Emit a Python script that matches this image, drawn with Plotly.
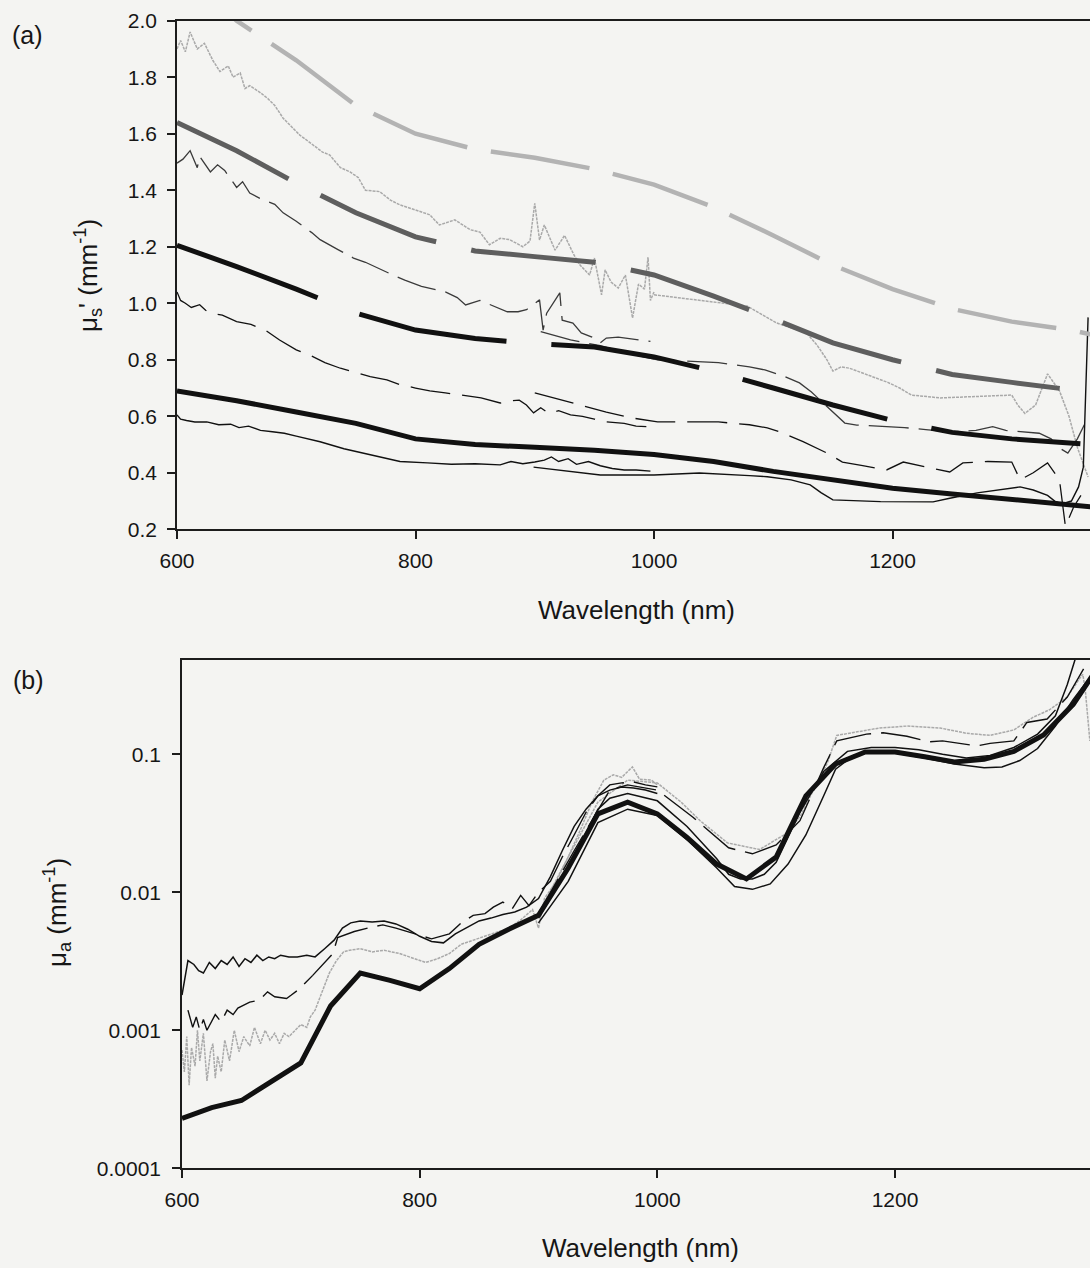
import plotly.graph_objects as go

# ---------------- panel (a): reduced scattering coefficient ----------------
# model fits (thick lines)
wl_fit_a = [600, 650, 700, 750, 800, 850, 900, 950, 1000, 1050, 1100, 1150, 1200, 1250, 1300, 1350, 1366]
mus_fit_1 = [2.20, 2.00, 1.86, 1.70, 1.60, 1.545, 1.515, 1.475, 1.42, 1.34, 1.24, 1.135, 1.05, 0.98, 0.935, 0.905, 0.89]
mus_fit_2 = [1.64, 1.54, 1.425, 1.32, 1.235, 1.185, 1.165, 1.145, 1.10, 1.025, 0.945, 0.86, 0.80, 0.748, 0.72, 0.693, 0.685]
mus_fit_3 = [1.205, 1.13, 1.05, 0.965, 0.905, 0.875, 0.857, 0.845, 0.81, 0.76, 0.70, 0.64, 0.585, 0.543, 0.52, 0.505, 0.50]
mus_fit_4 = [0.69, 0.655, 0.615, 0.575, 0.52, 0.50, 0.49, 0.48, 0.465, 0.44, 0.405, 0.375, 0.345, 0.325, 0.305, 0.285, 0.28]

# measured spectra, visible spectrometer
wl_m1_vis = [600, 603, 607, 611, 617, 623, 630, 636, 643, 647, 653, 657, 661, 670, 676, 682, 689, 697, 703, 712,
             722, 728, 737, 745, 752, 758, 770, 779, 787, 800, 812, 820, 833, 846, 854, 862, 871, 879, 890, 896,
             900, 904, 908, 917, 925, 933, 938, 946, 950, 956, 959, 964, 970, 976, 982, 987, 992, 995, 997, 1000]
mus_m1_vis = [1.90, 1.93, 1.89, 1.96, 1.90, 1.92, 1.86, 1.82, 1.84, 1.80, 1.815, 1.76, 1.77, 1.745, 1.725, 1.70, 1.655, 1.62, 1.595, 1.567,
              1.535, 1.525, 1.48, 1.465, 1.445, 1.40, 1.395, 1.365, 1.348, 1.33, 1.313, 1.277, 1.295, 1.26, 1.252, 1.207, 1.23, 1.225, 1.20, 1.22,
              1.354, 1.224, 1.277, 1.188, 1.24, 1.17, 1.135, 1.10, 1.16, 1.03, 1.118, 1.075, 1.054, 1.10, 0.948, 1.068, 1.05, 1.163, 1.01, 1.04]
wl_m2_vis = [600, 605, 611, 617, 619, 628, 634, 640, 645, 650, 655, 661, 670, 682, 689, 700, 713, 720, 735, 748,
             758, 770, 781, 791, 805, 818, 825, 835, 842, 854, 865, 877, 886, 893, 904, 907, 910, 921, 923, 932,
             939, 948, 955, 960, 970, 988, 997]
mus_m2_vis = [1.496, 1.51, 1.54, 1.48, 1.52, 1.465, 1.49, 1.47, 1.44, 1.41, 1.43, 1.39, 1.37, 1.35, 1.32, 1.29, 1.25, 1.225, 1.19, 1.16,
              1.145, 1.12, 1.10, 1.082, 1.06, 1.047, 1.04, 1.02, 0.994, 1.01, 0.99, 0.97, 0.97, 0.977, 1.012, 0.905, 0.965, 1.037, 0.94, 0.93,
              0.895, 0.88, 0.86, 0.877, 0.88, 0.87, 0.865]
wl_m3_vis = [600, 603, 607, 612, 619, 624, 628, 638, 650, 662, 674, 686, 700, 712, 724, 737, 750, 762, 776, 787,
             800, 812, 825, 840, 855, 871, 880, 887, 893, 899, 905, 912, 920, 930, 940, 950, 960, 975, 985, 997]
mus_m3_vis = [1.04, 1.01, 1.0, 0.985, 0.995, 0.975, 0.965, 0.958, 0.935, 0.925, 0.905, 0.87, 0.835, 0.815, 0.79, 0.77, 0.755, 0.74, 0.729, 0.712,
              0.70, 0.69, 0.683, 0.675, 0.665, 0.647, 0.655, 0.657, 0.64, 0.612, 0.63, 0.61, 0.62, 0.605, 0.60, 0.59, 0.58, 0.575, 0.565, 0.563]
wl_m4_vis = [600, 603, 608, 615, 625, 635, 645, 652, 660, 670, 680, 690, 700, 720, 740, 760, 787, 810, 830, 850,
             871, 880, 890, 900, 908, 914, 920, 928, 935, 945, 955, 965, 975, 985, 997]
mus_m4_vis = [0.605, 0.59, 0.585, 0.58, 0.58, 0.57, 0.572, 0.56, 0.565, 0.55, 0.545, 0.54, 0.53, 0.51, 0.485, 0.465, 0.44, 0.435, 0.43, 0.432,
              0.428, 0.44, 0.432, 0.438, 0.445, 0.456, 0.44, 0.45, 0.43, 0.44, 0.425, 0.415, 0.41, 0.41, 0.406]

# measured spectra, near-infrared spectrometer
wl_m1_nir = [1000, 1040, 1078, 1103, 1120, 1128, 1137, 1145, 1150, 1157, 1164, 1180, 1196, 1206, 1216, 1240, 1270, 1300,
             1305, 1311, 1320, 1326, 1330, 1335, 1340, 1348, 1355, 1364]
mus_m1_nir = [1.03, 1.01, 0.99, 0.93, 0.905, 0.895, 0.85, 0.80, 0.76, 0.775, 0.77, 0.745, 0.72, 0.70, 0.675, 0.665, 0.67, 0.675,
              0.64, 0.61, 0.64, 0.71, 0.75, 0.72, 0.69, 0.60, 0.49, 0.385]
wl_m2_nir = [905, 930, 955, 980, 1003, 1044, 1054, 1080, 1093, 1110, 1122, 1132, 1146, 1160, 1170, 1190, 1210, 1230, 1251,
             1270, 1284, 1295, 1310, 1323, 1333, 1339, 1347, 1355, 1362]
mus_m2_nir = [0.90, 0.87, 0.85, 0.82, 0.80, 0.793, 0.79, 0.775, 0.764, 0.74, 0.718, 0.686, 0.63, 0.576, 0.569, 0.565, 0.56, 0.552, 0.545,
              0.55, 0.563, 0.55, 0.545, 0.54, 0.52, 0.49, 0.47, 0.52, 0.58]
wl_m3_nir = [900, 920, 938, 960, 980, 1003, 1043, 1054, 1080, 1095, 1106, 1125, 1145, 1158, 1175, 1195, 1209, 1230, 1248,
             1259, 1280, 1300, 1307, 1318, 1330, 1340, 1345, 1352, 1358]
mus_m3_nir = [0.683, 0.66, 0.64, 0.615, 0.595, 0.58, 0.58, 0.58, 0.57, 0.559, 0.544, 0.51, 0.47, 0.438, 0.425, 0.41, 0.438, 0.42, 0.403,
              0.435, 0.44, 0.438, 0.375, 0.40, 0.435, 0.375, 0.21, 0.28, 0.32]
wl_m4_nir = [899, 930, 955, 1000, 1038, 1080, 1095, 1115, 1131, 1140, 1150, 1190, 1234, 1248, 1271, 1307, 1318, 1330,
             1336, 1342, 1350, 1356, 1360, 1364]
mus_m4_nir = [0.42, 0.405, 0.392, 0.392, 0.399, 0.39, 0.386, 0.375, 0.357, 0.33, 0.304, 0.298, 0.297, 0.31, 0.329, 0.35, 0.339, 0.32,
              0.30, 0.29, 0.30, 0.35, 0.42, 0.95]

# ---------------- panel (b): absorption coefficient ----------------
wl_ref_b = [600, 625, 650, 675, 700, 725, 750, 775, 800, 825, 850, 875, 900, 925, 950, 975, 1000, 1025, 1050, 1075,
            1100, 1125, 1150, 1175, 1200, 1225, 1250, 1275, 1300, 1325, 1350, 1366]
mua_ref_b = [2.3e-4, 2.75e-4, 3.1e-4, 4.2e-4, 5.8e-4, 1.5e-3, 2.6e-3, 2.3e-3, 2.0e-3, 2.8e-3, 4.2e-3, 5.4e-3, 6.8e-3, 0.015, 0.037, 0.045,
             0.037, 0.025, 0.016, 0.0125, 0.018, 0.05, 0.085, 0.104, 0.104, 0.096, 0.088, 0.092, 0.105, 0.138, 0.23, 0.37]

wl_s1_vis = [600, 602, 605, 610, 614, 618, 623, 628, 633, 638, 643, 648, 653, 658, 663, 668, 673, 678, 683, 690,
             697, 705, 712, 720, 728, 735, 742, 750, 760, 770, 780, 790, 800, 810, 820, 830, 840, 850, 860, 870,
             880, 890, 900, 910, 920, 930, 940, 950, 960, 970, 980, 990, 1000]
mua_s1_vis = [1.8e-3, 2.3e-3, 3.2e-3, 3.0e-3, 2.7e-3, 2.6e-3, 3.1e-3, 2.8e-3, 3.2e-3, 3.0e-3, 3.4e-3, 2.9e-3, 3.3e-3, 3.1e-3, 3.5e-3,
              3.2e-3, 3.4e-3, 3.3e-3, 3.5e-3, 3.4e-3, 3.4e-3, 3.5e-3, 3.4e-3, 3.9e-3, 4.5e-3, 5.5e-3, 6.0e-3, 6.2e-3, 6.1e-3, 6.2e-3,
              5.9e-3, 5.4e-3, 4.8e-3, 4.4e-3, 4.3e-3, 5.0e-3, 5.6e-3, 6.2e-3, 6.5e-3, 6.9e-3, 7.2e-3, 7.8e-3, 9.0e-3, 0.013, 0.020,
              0.030, 0.040, 0.050, 0.055, 0.058, 0.057, 0.055, 0.052]
wl_s2_vis = [605, 607, 609, 612, 615, 618, 621, 628, 633, 638, 643, 647, 657, 665, 672, 678, 688, 692, 699, 710,
             720, 727, 731, 745, 760, 769, 780, 795, 810, 825, 835, 845, 855, 862, 870, 878, 885, 892, 900, 910,
             920, 930, 940, 950, 960, 970, 980, 990, 1000]
mua_s2_vis = [1.4e-3, 1.2e-3, 1.05e-3, 1.25e-3, 1.0e-3, 1.2e-3, 1.0e-3, 1.3e-3, 1.15e-3, 1.4e-3, 1.3e-3, 1.45e-3, 1.6e-3, 1.65e-3,
              1.9e-3, 1.75e-3, 1.7e-3, 1.8e-3, 2.0e-3, 2.5e-3, 3.1e-3, 3.6e-3, 4.7e-3, 5.2e-3, 5.6e-3, 5.8e-3, 5.5e-3, 5.0e-3,
              4.6e-3, 5.0e-3, 6.0e-3, 6.8e-3, 7.0e-3, 7.8e-3, 8.5e-3, 7.6e-3, 9.5e-3, 8.0e-3, 0.010, 0.012, 0.018, 0.026, 0.038,
              0.050, 0.060, 0.062, 0.063, 0.060, 0.058]
wl_s3_vis = [600, 602, 604, 606, 608, 611, 613, 615, 618, 621, 624, 626, 628, 630, 633, 636, 640, 644, 648, 652,
             657, 661, 666, 670, 674, 678, 682, 686, 690, 695, 700, 705, 708, 712, 718, 724, 730, 736, 741, 750,
             760, 770, 783, 795, 805, 815, 825, 835, 845, 855, 865, 875, 885, 895, 900, 905, 915, 925, 935, 945,
             955, 963, 970, 979, 985, 995, 1000]
mua_s3_vis = [7.2e-4, 5.0e-4, 9.0e-4, 4.0e-4, 7.5e-4, 5.5e-4, 1.0e-3, 6.0e-4, 9.5e-4, 4.3e-4, 7.0e-4, 8.0e-4, 4.5e-4, 6.5e-4, 5.0e-4,
              8.5e-4, 6.0e-4, 1.0e-3, 7.0e-4, 9.0e-4, 7.7e-4, 1.05e-3, 8.0e-4, 1.0e-3, 8.5e-4, 9.5e-4, 8.0e-4, 9.5e-4, 9.0e-4,
              1.0e-3, 1.1e-3, 1.05e-3, 1.25e-3, 1.4e-3, 1.9e-3, 2.6e-3, 3.2e-3, 3.7e-3, 3.8e-3, 3.9e-3, 3.7e-3, 3.8e-3, 3.6e-3,
              3.3e-3, 3.1e-3, 3.3e-3, 3.6e-3, 4.2e-3, 4.5e-3, 4.8e-3, 5.2e-3, 5.5e-3, 6.3e-3, 7.5e-3, 5.5e-3, 9.0e-3, 0.012,
              0.018, 0.028, 0.045, 0.065, 0.071, 0.068, 0.081, 0.066, 0.065, 0.060]

wl_s1_nir = [900, 925, 950, 960, 975, 1000, 1025, 1050, 1060, 1070, 1080, 1090, 1100, 1120, 1140, 1160, 1180, 1200, 1220,
             1240, 1260, 1280, 1300, 1320, 1335, 1345, 1352]
mua_s1_nir = [6.5e-3, 0.015, 0.040, 0.048, 0.052, 0.046, 0.030, 0.0175, 0.0135, 0.0125, 0.0125, 0.0135, 0.0165, 0.038, 0.075, 0.105,
              0.112, 0.112, 0.108, 0.100, 0.094, 0.098, 0.112, 0.14, 0.19, 0.32, 0.5]
wl_s4_nir = [900, 925, 950, 975, 1000, 1025, 1050, 1065, 1080, 1095, 1110, 1125, 1140, 1150, 1165, 1180, 1200, 1225, 1250,
             1275, 1290, 1305, 1320, 1335, 1350, 1366]
mua_s4_nir = [6.0e-3, 0.012, 0.032, 0.040, 0.036, 0.024, 0.015, 0.011, 0.0105, 0.0115, 0.016, 0.026, 0.05, 0.078, 0.098, 0.104, 0.102,
              0.094, 0.085, 0.080, 0.081, 0.09, 0.11, 0.16, 0.25, 0.38]
wl_s2_nir = [900, 930, 960, 975, 1000, 1030, 1060, 1080, 1100, 1120, 1140, 1151, 1176, 1190, 1210, 1229, 1240, 1269, 1280,
             1300, 1311, 1328, 1345, 1361]
mua_s2_nir = [7.0e-3, 0.020, 0.055, 0.060, 0.055, 0.035, 0.021, 0.019, 0.022, 0.033, 0.080, 0.125, 0.14, 0.143, 0.135, 0.123, 0.125,
              0.115, 0.12, 0.125, 0.17, 0.18, 0.26, 0.45]
wl_s3_nir = [900, 925, 950, 975, 1000, 1020, 1036, 1059, 1086, 1109, 1120, 1143, 1151, 1187, 1210, 1238, 1260, 1280, 1300,
             1316, 1330, 1345, 1355, 1358, 1360, 1364]
mua_s3_nir = [7.0e-3, 0.018, 0.045, 0.065, 0.062, 0.045, 0.033, 0.0228, 0.0204, 0.0268, 0.0353, 0.086, 0.137, 0.155, 0.16, 0.155,
              0.142, 0.137, 0.15, 0.185, 0.21, 0.26, 0.35, 0.38, 0.30, 0.125]

# tick labels
x_ticks = [600, 800, 1000, 1200]
mus_ticks = [0.2, 0.4, 0.6, 0.8, 1.0, 1.2, 1.4, 1.6, 1.8, 2.0]
mua_ticks = [1e-4, 1e-3, 1e-2, 1e-1]
mua_ticktext = ["0.0001", "0.001", "0.01", "0.1"]

# ---------------- styles ----------------
BLACK = "#111111"
DARK = "#3a3a3a"
MID = "#5e5e5e"
LIGHT = "#a9a9a9"
BG = "#f4f4f2"
INK = "#161616"
FONT = "Liberation Sans, Arial, sans-serif"

fig = go.Figure()


def add(x, y, color, width, dash="solid", axis="a"):
    fig.add_trace(go.Scatter(
        x=x, y=y, mode="lines",
        line=dict(color=color, width=width, dash=dash),
        xaxis="x" if axis == "a" else "x2",
        yaxis="y" if axis == "a" else "y2",
        showlegend=False, hoverinfo="skip",
    ))


# panel (a) measured spectra
for wl, mu in [(wl_m1_vis, mus_m1_vis), (wl_m1_nir, mus_m1_nir)]:
    add(wl, mu, LIGHT, 1.5, "3px,1px")
for wl, mu in [(wl_m2_vis, mus_m2_vis), (wl_m2_nir, mus_m2_nir)]:
    add(wl, mu, DARK, 1.3, "40px,10px")
for wl, mu in [(wl_m3_vis, mus_m3_vis), (wl_m3_nir, mus_m3_nir)]:
    add(wl, mu, BLACK, 1.3, "40px,12px")
for wl, mu in [(wl_m4_vis, mus_m4_vis), (wl_m4_nir, mus_m4_nir)]:
    add(wl, mu, BLACK, 1.4)

# panel (a) fitted curves
add(wl_fit_a, mus_fit_1, "#b3b3b3", 4.5, "100px,24px")
add(wl_fit_a, mus_fit_2, MID, 5, "125px,36px")
add(wl_fit_a, mus_fit_3, BLACK, 5, "150px,45px")
add(wl_fit_a, mus_fit_4, BLACK, 5)

# panel (b)
add(wl_s3_vis, mua_s3_vis, LIGHT, 1.5, "3px,1px", "b")
add(wl_s3_nir, mua_s3_nir, LIGHT, 1.5, "3px,1px", "b")
add(wl_s2_vis, mua_s2_vis, BLACK, 1.4, "40px,10px", "b")
add(wl_s2_nir, mua_s2_nir, BLACK, 1.4, "40px,10px", "b")
add(wl_s1_vis, mua_s1_vis, BLACK, 1.5, "solid", "b")
add(wl_s1_nir, mua_s1_nir, BLACK, 1.5, "solid", "b")
add(wl_s4_nir, mua_s4_nir, BLACK, 1.5, "solid", "b")
add(wl_ref_b, mua_ref_b, BLACK, 5, "solid", "b")

W, H = 1090, 1268

axis_common = dict(
    showline=True, linecolor="#1c1c1c", linewidth=1.5,
    ticks="outside", ticklen=8, tickwidth=1.5, tickcolor="#1c1c1c",
    showgrid=False, zeroline=False, automargin=False,
    tickfont=dict(family=FONT, size=21, color=INK),
)

fig.update_layout(
    width=W, height=H, autosize=False,
    margin=dict(l=0, r=0, t=0, b=0, pad=0),
    paper_bgcolor=BG, plot_bgcolor=BG,
    xaxis=dict(domain=[177 / W, 1.0], range=[600, 1365.6], tickvals=x_ticks,
               mirror=True, anchor="y", ticklabelstandoff=4, **axis_common),
    yaxis=dict(domain=[1 - 529.3 / H, 1 - 20.7 / H], range=[0.2, 2.0], tickvals=mus_ticks,
               tickformat=".1f", anchor="x", ticklabelstandoff=6, **axis_common),
    xaxis2=dict(domain=[182 / W, 1.0], range=[600, 1364.1], tickvals=x_ticks,
                mirror=True, anchor="y2", ticklabelstandoff=4, **axis_common),
    yaxis2=dict(domain=[1 - 1168.3 / H, 1 - 660 / H], type="log", range=[-4, -0.317],
                tickvals=mua_ticks, ticktext=mua_ticktext, anchor="x2", ticklabelstandoff=7,
                **axis_common),
)


def label(px, py, text, angle=0, size=25):
    fig.add_annotation(
        x=px / W, y=1 - py / H, xref="paper", yref="paper",
        text=text, showarrow=False, textangle=angle,
        font=dict(family=FONT, size=size, color=INK),
        xanchor="center", yanchor="middle",
    )


label(27, 35, "(a)")
label(28, 680, "(b)")
label(636, 610, "Wavelength (nm)", size=26)
label(640, 1248, "Wavelength (nm)", size=26)
label(88, 276, "μ<sub>s</sub>' (mm<sup>-1</sup>)", angle=-90, size=26)
label(57, 913, "μ<sub>a</sub> (mm<sup>-1</sup>)", angle=-90, size=26)

fig.write_html("out.html")
